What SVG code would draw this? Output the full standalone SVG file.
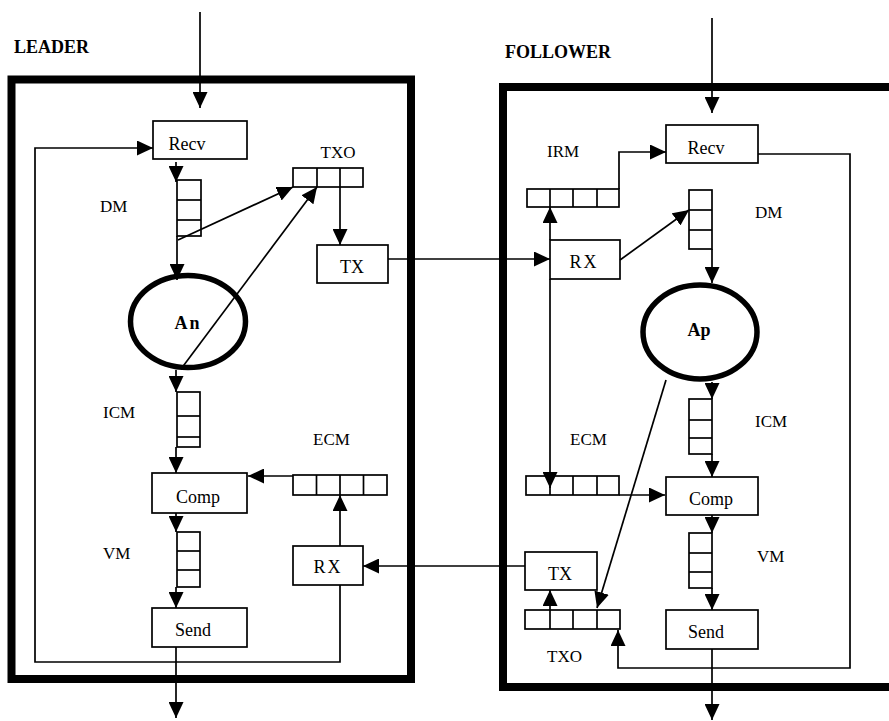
<svg xmlns="http://www.w3.org/2000/svg" width="889" height="721" viewBox="0 0 889 721">
<defs>
<marker id="ah" markerUnits="userSpaceOnUse" markerWidth="16" markerHeight="15" refX="16" refY="7.5" orient="auto">
<path d="M0,0 L16,7.5 L0,15 z" fill="#000"/>
</marker>
<style>
.frame{fill:none;stroke:#000;stroke-width:8}
.box{fill:none;stroke:#000;stroke-width:1.7}
.q{fill:none;stroke:#000;stroke-width:1.7}
.proc{fill:none;stroke:#000;stroke-width:5.5}
.c{fill:none;stroke:#000;stroke-width:1.7}
.a{fill:none;stroke:#000;stroke-width:1.7;marker-end:url(#ah)}
text{font-family:"Liberation Serif","Times New Roman",serif;fill:#000}
.t{font-size:18px;text-anchor:middle}
.lbl{font-size:17px}
.title{font-size:18px;font-weight:bold}
.pt{font-size:18px;font-weight:bold;text-anchor:middle}
</style>
</defs>
<rect width="889" height="721" fill="#fff"/>

<g id="leader">
<rect class="frame" x="11.5" y="79.5" width="399.5" height="599.5"/>
<text class="title" x="14" y="53">LEADER</text>
</g>
<g id="follower">
<rect class="frame" x="503" y="87" width="400" height="600"/>
<text class="title" x="505" y="58">FOLLOWER</text>
</g>

<g id="connectors">
<!-- leader -->
<line class="a" x1="200" y1="12" x2="200" y2="108"/>
<line class="a" x1="176" y1="162" x2="176" y2="182"/>
<line class="a" x1="177" y1="236" x2="177" y2="280"/>
<line class="a" x1="178" y1="240" x2="293" y2="187"/>
<line class="a" x1="181" y1="369" x2="317" y2="187"/>
<line class="a" x1="340" y1="187" x2="340" y2="245"/>
<line class="a" x1="388" y1="259" x2="550" y2="259"/>
<line class="a" x1="176" y1="370" x2="176" y2="392"/>
<line class="a" x1="176" y1="447" x2="176" y2="473"/>
<line class="a" x1="293" y1="476" x2="248" y2="476"/>
<line class="a" x1="340" y1="546" x2="340" y2="495"/>
<line class="a" x1="176" y1="513" x2="176" y2="532"/>
<line class="a" x1="176" y1="587" x2="176" y2="608"/>
<line class="a" x1="176" y1="647" x2="176" y2="718"/>
<polyline class="a" points="340,585 340,662 35,662 35,148 153,148"/>
<!-- follower -->
<line class="a" x1="712" y1="18" x2="712" y2="113"/>
<polyline class="a" points="619,189 619,152 666,152"/>
<line class="a" x1="550" y1="240" x2="550" y2="207"/>
<line class="a" x1="550" y1="279" x2="550" y2="488"/>
<line class="a" x1="620" y1="260" x2="689" y2="210"/>
<line class="a" x1="712" y1="249" x2="712" y2="283"/>
<line class="a" x1="712" y1="382" x2="712" y2="399"/>
<line class="a" x1="712" y1="454" x2="712" y2="477"/>
<line class="a" x1="619" y1="495" x2="665" y2="495"/>
<line class="a" x1="712" y1="515" x2="712" y2="533"/>
<line class="a" x1="712" y1="588" x2="712" y2="610"/>
<line class="a" x1="712" y1="649" x2="712" y2="720"/>
<polyline class="a" points="758,154 850,154 850,668 618,668 618,630"/>
<line class="a" x1="666" y1="380" x2="597" y2="608"/>
<line class="a" x1="550" y1="610" x2="550" y2="590"/>
<line class="a" x1="525" y1="566" x2="363" y2="566"/>
</g>

<!-- leader nodes -->
<g id="L_Recv"><rect class="box" x="153" y="121" width="94" height="38"/><text class="t" x="187" y="150">Recv</text></g>
<g id="L_DM">
<rect class="q" x="177" y="180" width="24" height="56"/>
<line class="c" x1="177" y1="200" x2="201" y2="200"/><line class="c" x1="177" y1="220" x2="201" y2="220"/>
<text class="lbl" x="100" y="212">DM</text>
</g>
<g id="L_TXO">
<rect class="q" x="293" y="168" width="70" height="19"/>
<line class="c" x1="317" y1="168" x2="317" y2="187"/><line class="c" x1="340" y1="168" x2="340" y2="187"/>
<text class="lbl" x="338" y="158" text-anchor="middle">TXO</text>
</g>
<g id="L_TX"><rect class="box" x="317" y="245" width="71" height="38"/><text class="t" x="352" y="273">TX</text></g>
<g id="L_An"><ellipse class="proc" cx="188" cy="321.5" rx="57.5" ry="46"/><text class="pt" x="188" y="329" letter-spacing="2">An</text></g>
<g id="L_ICM">
<rect class="q" x="177" y="392" width="23" height="55"/>
<line class="c" x1="177" y1="416" x2="200" y2="416"/><line class="c" x1="177" y1="437" x2="200" y2="437"/>
<text class="lbl" x="103" y="418">ICM</text>
</g>
<g id="L_ECM">
<rect class="q" x="293" y="475" width="94" height="20"/>
<line class="c" x1="316.5" y1="475" x2="316.5" y2="495"/><line class="c" x1="340" y1="475" x2="340" y2="495"/><line class="c" x1="363.5" y1="475" x2="363.5" y2="495"/>
<text class="lbl" x="313" y="445">ECM</text>
</g>
<g id="L_Comp"><rect class="box" x="152" y="473" width="95" height="40"/><text class="t" x="198" y="503">Comp</text></g>
<g id="L_VM">
<rect class="q" x="177" y="532" width="23" height="55"/>
<line class="c" x1="177" y1="551" x2="200" y2="551"/><line class="c" x1="177" y1="570" x2="200" y2="570"/>
<text class="lbl" x="103" y="559">VM</text>
</g>
<g id="L_Send"><rect class="box" x="152" y="608" width="95" height="39"/><text class="t" x="193" y="636">Send</text></g>
<g id="L_RX"><rect class="box" x="293" y="546" width="70" height="39"/><text class="t" x="328" y="573" letter-spacing="2">RX</text></g>

<!-- follower nodes -->
<g id="F_Recv"><rect class="box" x="666" y="125" width="92" height="38"/><text class="t" x="706" y="154">Recv</text></g>
<g id="F_IRM">
<rect class="q" x="527" y="189" width="92" height="18"/>
<line class="c" x1="550" y1="189" x2="550" y2="207"/><line class="c" x1="573" y1="189" x2="573" y2="207"/><line class="c" x1="597" y1="189" x2="597" y2="207"/>
<text class="lbl" x="547" y="157">IRM</text>
</g>
<g id="F_DM">
<rect class="q" x="689" y="190" width="23" height="59"/>
<line class="c" x1="689" y1="210" x2="712" y2="210"/><line class="c" x1="689" y1="230" x2="712" y2="230"/>
<text class="lbl" x="755" y="218">DM</text>
</g>
<g id="F_RX"><rect class="box" x="550" y="240" width="70" height="39"/><text class="t" x="584" y="268" letter-spacing="2">RX</text></g>
<g id="F_Ap"><ellipse class="proc" cx="700" cy="332" rx="57" ry="47"/><text class="pt" x="699" y="336">Ap</text></g>
<g id="F_ICM">
<rect class="q" x="689" y="399" width="23" height="55"/>
<line class="c" x1="689" y1="420" x2="712" y2="420"/><line class="c" x1="689" y1="438" x2="712" y2="438"/>
<text class="lbl" x="755" y="427">ICM</text>
</g>
<g id="F_ECM">
<rect class="q" x="526" y="476" width="93" height="19"/>
<line class="c" x1="550" y1="476" x2="550" y2="495"/><line class="c" x1="573" y1="476" x2="573" y2="495"/><line class="c" x1="597" y1="476" x2="597" y2="495"/>
<text class="lbl" x="570" y="445">ECM</text>
</g>
<g id="F_Comp"><rect class="box" x="666" y="477" width="92" height="38"/><text class="t" x="711" y="505">Comp</text></g>
<g id="F_VM">
<rect class="q" x="689" y="533" width="23" height="55"/>
<line class="c" x1="689" y1="553" x2="712" y2="553"/><line class="c" x1="689" y1="572" x2="712" y2="572"/>
<text class="lbl" x="757" y="562">VM</text>
</g>
<g id="F_Send"><rect class="box" x="666" y="610" width="92" height="39"/><text class="t" x="706" y="638">Send</text></g>
<g id="F_TX"><rect class="box" x="525" y="552" width="72" height="38"/><text class="t" x="560" y="580">TX</text></g>
<g id="F_TXO">
<rect class="q" x="525" y="610" width="95" height="19"/>
<line class="c" x1="550" y1="610" x2="550" y2="629"/><line class="c" x1="573" y1="610" x2="573" y2="629"/><line class="c" x1="597" y1="610" x2="597" y2="629"/>
<text class="lbl" x="547" y="662">TXO</text>
</g>
</svg>
